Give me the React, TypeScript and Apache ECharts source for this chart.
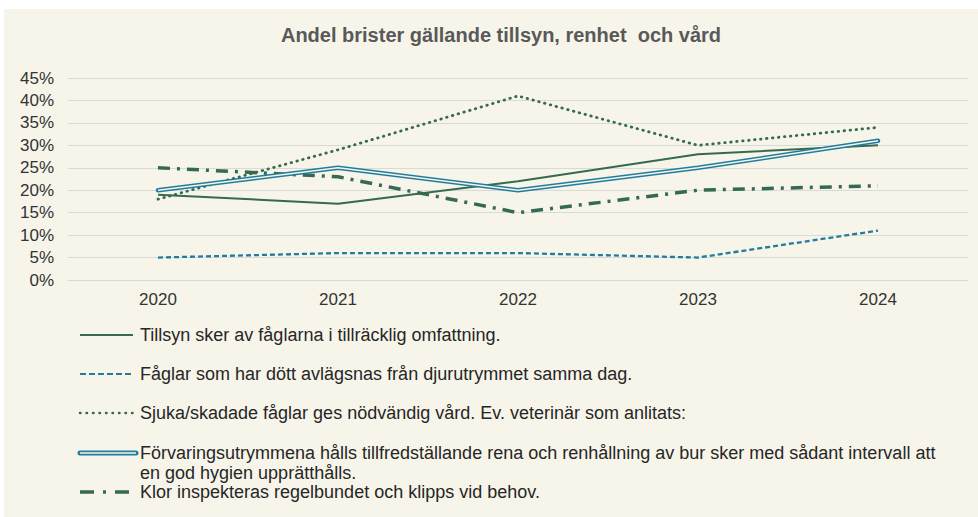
import React, { useEffect, useRef } from "react";
import * as echarts from "echarts";

const years = ["2020", "2021", "2022", "2023", "2024"];
const tillsyn = [19, 17, 22, 28, 30];
const doda = [5, 6, 6, 5, 11];
const sjuka = [18, 29, 41, 30, 34];
const forvaring = [20, 25, 20, 25, 31];
const klor = [25, 23, 15, 20, 21];

const names = [
  "Tillsyn sker av fåglarna i tillräcklig omfattning.",
  "Fåglar som har dött avlägsnas från djurutrymmet samma dag.",
  "Sjuka/skadade fåglar ges nödvändig vård. Ev. veterinär som anlitats:",
  "Förvaringsutrymmena hålls tillfredställande rena och renhållning av bur sker med sådant intervall att\nen god hygien upprätthålls.",
  "Klor inspekteras regelbundet och klipps vid behov.",
];

const GREEN = "#336A51";
const BLUE = "#217C9E";
const BG = "#F7F5EA";
const FONT = "'Liberation Sans', Arial, sans-serif";

export default function App() {
  const ref = useRef<HTMLDivElement>(null);
  useEffect(() => {
    const chart = echarts.init(ref.current!, null, { renderer: "svg" });
    const lx1 = 80;
    const lx2 = 133;
    const tx = 140;
    const legendY = [335, 374, 413, 453, 492];
    const legendGraphics: any[] = [];
    const lineStyles: any[] = [
      { stroke: GREEN, lineWidth: 2 },
      { stroke: BLUE, lineWidth: 2, lineDash: [6, 3] },
      { stroke: GREEN, lineWidth: 2.5, lineDash: [0.5, 6], lineCap: "round" },
      null,
      { stroke: GREEN, lineWidth: 3.5, lineDash: [14, 9, 3, 9] },
    ];
    legendY.forEach((y, i) => {
      if (i === 3) {
        legendGraphics.push({
          type: "line",
          shape: { x1: lx1, y1: y, x2: lx2 + 3, y2: y },
          style: { stroke: BLUE, lineWidth: 5, lineCap: "round" },
        });
        legendGraphics.push({
          type: "line",
          shape: { x1: lx1, y1: y, x2: lx2 + 3, y2: y },
          style: { stroke: BG, lineWidth: 1.6 },
        });
      } else {
        legendGraphics.push({
          type: "line",
          shape: { x1: lx1, y1: y, x2: lx2, y2: y },
          style: lineStyles[i],
        });
      }
      legendGraphics.push({
        type: "text",
        x: tx,
        y: i === 3 ? y - 10 : y,
        style: {
          text: names[i],
          font: `18px ${FONT}`,
          fill: "#262626",
          textVerticalAlign: i === 3 ? "top" : "middle",
          lineHeight: 20,
        },
      });
    });
    const option: any = {
      animation: false,
      graphic: [
        {
          type: "rect",
          z: -10,
          silent: true,
          shape: { x: 4, y: 9, width: 974, height: 508 },
          style: { fill: BG },
        },
        {
          type: "text",
          x: 501,
          y: 35,
          style: {
            text: "Andel brister gällande tillsyn, renhet  och vård",
            font: `bold 20px ${FONT}`,
            fill: "#595959",
            textAlign: "center",
            textVerticalAlign: "middle",
          },
        },
        ...legendGraphics,
      ],
      grid: { left: 68, right: 10, top: 78, bottom: 237 },
      xAxis: {
        type: "category",
        data: years,
        boundaryGap: true,
        axisLine: { lineStyle: { color: "#D9D9D9", width: 1 } },
        axisTick: { show: false },
        axisLabel: { color: "#333333", fontSize: 17, fontFamily: FONT, margin: 11 },
      },
      yAxis: {
        type: "value",
        min: 0,
        max: 45,
        interval: 5,
        axisLine: { show: false },
        axisTick: { show: false },
        splitLine: { lineStyle: { color: "#D9D9D9", width: 1 } },
        axisLabel: {
          color: "#333333",
          fontSize: 17,
          fontFamily: FONT,
          margin: 14,
          formatter: "{value}%",
        },
      },
      series: [
        {
          name: "tillsyn",
          type: "line",
          data: tillsyn,
          symbol: "none",
          lineStyle: { color: GREEN, width: 2 },
          z: 3,
        },
        {
          name: "doda",
          type: "line",
          data: doda,
          symbol: "none",
          lineStyle: { color: BLUE, width: 2.3, type: [5, 3] },
          z: 3,
        },
        {
          name: "sjuka",
          type: "line",
          data: sjuka,
          symbol: "none",
          lineStyle: { color: GREEN, width: 2.8, type: [0.5, 5.5], cap: "round" },
          z: 3,
        },
        {
          name: "forvaring",
          type: "line",
          data: forvaring,
          symbol: "none",
          lineStyle: { color: BLUE, width: 4.5, cap: "round" },
          z: 4,
        },
        {
          name: "forvaring-inner",
          type: "line",
          data: forvaring,
          symbol: "none",
          lineStyle: { color: BG, width: 1.5 },
          z: 5,
        },
        {
          name: "klor",
          type: "line",
          data: klor,
          symbol: "none",
          lineStyle: { color: GREEN, width: 3.5, type: [12, 7, 3, 7] },
          z: 3,
        },
      ],
    };
    chart.setOption(option);
    return () => chart.dispose();
  }, []);
  return (
    <div
      ref={ref}
      style={{ position: "absolute", left: 0, top: 0, width: 978, height: 517, background: "#FFFFFF" }}
    />
  );
}
